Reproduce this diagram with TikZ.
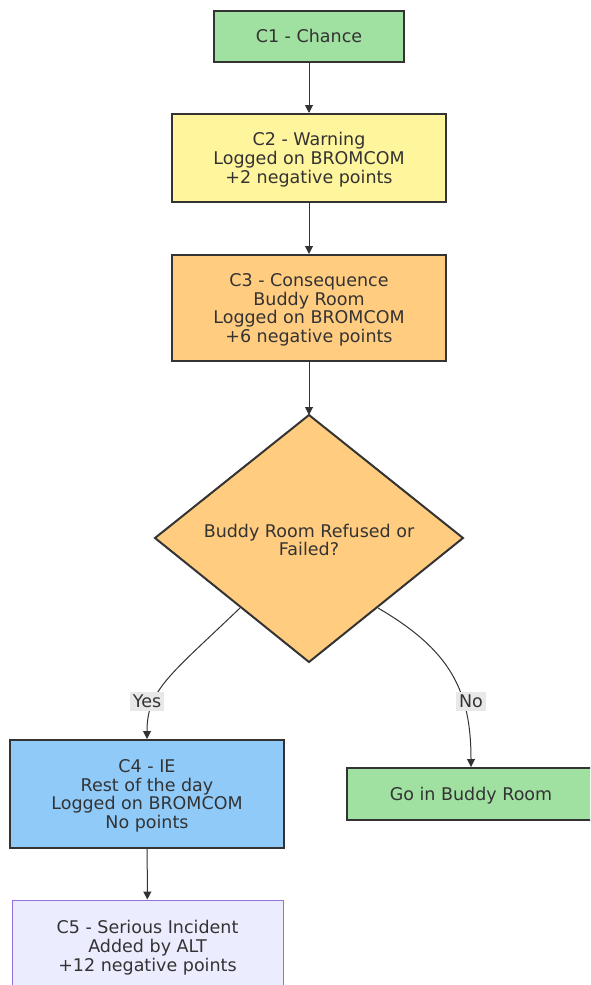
\documentclass[tikz,border=0pt]{standalone}
\usepackage{fontspec}
\setmainfont{DejaVu Sans}
\usetikzlibrary{shapes.geometric,arrows.meta}
\definecolor{cgreen}{HTML}{A0E0A0}
\definecolor{cyellow}{HTML}{FFF59D}
\definecolor{corange}{HTML}{FFCC80}
\definecolor{cblue}{HTML}{90CAF9}
\definecolor{clav}{HTML}{ECECFF}
\definecolor{cpurp}{HTML}{9370DB}
\definecolor{cline}{HTML}{333333}
\definecolor{clabel}{HTML}{E8E8E8}
\tikzset{
  box/.style={draw=cline, line width=2pt, align=center, inner sep=0pt, font=\fontsize{17.5}{18.7}\selectfont, text=cline, text depth=-7pt},
  conn/.style={draw=cline, line width=1pt, -{Triangle[length=8pt,width=8pt]}},
  elabel/.style={fill=clabel, inner sep=3pt, font=\fontsize{17.5}{19}\selectfont, text=cline}
}
\begin{document}
\begin{tikzpicture}[x=1pt,y=-1pt]
\useasboundingbox (0,0) rectangle (590,985);
\clip (0,0) rectangle (590,985);
\node[box, fill=cgreen, minimum width=190pt, minimum height=51pt] (c1) at (309,36) {C1 - Chance};
\node[box, fill=cyellow, minimum width=274pt, minimum height=88pt] (c2) at (309,158) {C2 - Warning\\Logged on BROMCOM\\+2 negative points};
\node[box, fill=corange, minimum width=274pt, minimum height=106pt] (c3) at (309,308) {C3 - Consequence\\Buddy Room\\Logged on BROMCOM\\+6 negative points};
\path[draw=cline, line width=2pt, fill=corange] (309,415) -- (463,538) -- (309,662) -- (155,538) -- cycle;
\node[align=center, font=\fontsize{17.5}{18.7}\selectfont, text=cline] (d) at (309,540) {Buddy Room Refused or\\Failed?};
\coordinate (dtop) at (309,415);
\coordinate (dl) at (240,608);
\coordinate (dr) at (378,608);
\node[box, fill=cblue, minimum width=274pt, minimum height=108pt] (c4) at (147,794) {C4 - IE\\Rest of the day\\Logged on BROMCOM\\No points};
\node[box, fill=cgreen, minimum width=248pt, minimum height=52pt] (go) at (471,794) {Go in Buddy Room};
\node[box, draw=cpurp, line width=1pt, fill=clav, minimum width=271pt, minimum height=92pt] (c5) at (147.5,946) {C5 - Serious Incident\\Added by ALT\\+12 negative points};
\draw[conn] (c1) -- (c2);
\draw[conn] (c2) -- (c3);
\draw[conn] (c3.south) -- (dtop);
\draw[conn] (dl) .. controls (170,675) and (147,690) .. (c4.north);
\draw[conn] (dr) .. controls (450,650) and (471,690) .. (go.north);
\node[elabel] (yes) at (147,701) {Yes};
\node[elabel] (no) at (471,701) {No};
\draw[conn] (c4) -- (c5);
\end{tikzpicture}
\end{document}
